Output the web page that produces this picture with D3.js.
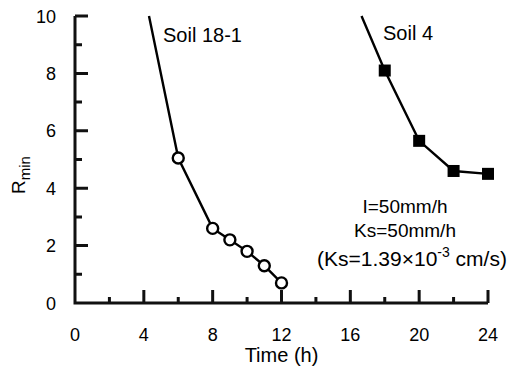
<!DOCTYPE html>
<meta charset="utf-8">
<script src="https://cdn.jsdelivr.net/npm/d3@7"></script>
<head>
	<title>Rmin vs time</title>
	<style>
		body { margin: 0; background: #fff; }
		text { font-family: "Liberation Sans", Arial, sans-serif; fill: #000; }
	</style>
</head>
<body>
	<div id="chart"></div>
	<script>
		// data
		// soil 18-1: first point is where the curve leaves the top of the frame (no marker)
		var soil181Time = [4.3, 6, 8, 9, 10, 11, 12],
			soil181Rmin = [10, 5.05, 2.6, 2.2, 1.8, 1.3, 0.7];
		var soil4Time = [16.65, 18, 20, 22, 24],
			soil4Rmin = [10, 8.1, 5.65, 4.6, 4.5];
		var xMajor = [0, 4, 8, 12, 16, 20, 24],
			xMinor = [2, 6, 10, 14, 18, 22],
			yMajor = [0, 2, 4, 6, 8, 10],
			yMinor = [1, 3, 5, 7, 9];

		var width = 518, height = 376;
		var svg = d3.select("#chart").append("svg")
			.attr("width", width)
			.attr("height", height);

		var x = d3.scaleLinear().domain([0, 24]).range([75, 488]);
		var y = d3.scaleLinear().domain([0, 10]).range([303, 16]);

		// axis lines + inward ticks, built as one path from the scales
		var d = "M" + x(0) + "," + y(10) + "V" + y(0) + "H" + x(24);
		xMajor.slice(1).forEach(function(v) { d += "M" + x(v) + "," + y(0) + "v-13"; });
		xMinor.forEach(function(v) { d += "M" + x(v) + "," + y(0) + "v-6"; });
		yMajor.slice(1).forEach(function(v) { d += "M" + x(0) + "," + y(v) + "h13"; });
		yMinor.forEach(function(v) { d += "M" + x(0) + "," + y(v) + "h7"; });
		svg.append("path")
			.attr("d", d)
			.attr("fill", "none")
			.attr("stroke", "#111")
			.attr("stroke-width", 3);

		// tick labels
		svg.selectAll("text.xl").data(xMajor).enter().append("text")
			.attr("x", function(v) { return x(v); }).attr("y", 341)
			.attr("text-anchor", "middle")
			.style("font-size", "18px")
			.text(function(v) { return v; });
		svg.selectAll("text.yl").data(yMajor).enter().append("text")
			.attr("x", 56).attr("y", function(v) { return y(v) + 6.5; })
			.attr("text-anchor", "end")
			.style("font-size", "18px")
			.text(function(v) { return v; });

		// axis titles
		svg.append("text")
			.attr("x", x(12)).attr("y", 362)
			.attr("text-anchor", "middle")
			.style("font-size", "20px")
			.text("Time (h)");

		var yl = svg.append("text")
			.attr("transform", "translate(25,175) rotate(-90)")
			.attr("text-anchor", "middle")
			.style("font-size", "19px");
		yl.append("tspan").text("R");
		yl.append("tspan").attr("dy", 5).style("font-size", "15px").text("min");

		var line = d3.line()
			.x(function(p) { return x(p[0]); })
			.y(function(p) { return y(p[1]); });

		var s181 = d3.zip(soil181Time, soil181Rmin),
			s4 = d3.zip(soil4Time, soil4Rmin);

		svg.append("path").datum(s181)
			.attr("d", line).attr("fill", "none").attr("stroke", "#000").attr("stroke-width", 2.4);
		svg.append("path").datum(s4)
			.attr("d", line).attr("fill", "none").attr("stroke", "#000").attr("stroke-width", 2.4);

		// open circles (skip the unmarked curve start)
		svg.selectAll("circle.s181").data(s181.slice(1)).enter()
			.append("circle")
			.attr("class", "s181")
			.attr("cx", function(p) { return x(p[0]); })
			.attr("cy", function(p) { return y(p[1]); })
			.attr("r", 5.5)
			.attr("fill", "#fff").attr("stroke", "#000").attr("stroke-width", 2.4);

		// filled squares
		svg.selectAll("rect.s4").data(s4.slice(1)).enter()
			.append("rect")
			.attr("class", "s4")
			.attr("x", function(p) { return x(p[0]) - 6; })
			.attr("y", function(p) { return y(p[1]) - 6; })
			.attr("width", 12).attr("height", 12)
			.attr("fill", "#000");

		// labels
		svg.append("text").attr("x", 163).attr("y", 42).style("font-size", "20px").text("Soil 18-1");
		svg.append("text").attr("x", 383).attr("y", 40).style("font-size", "20px").text("Soil 4");

		svg.append("text").attr("x", 405).attr("y", 213).attr("text-anchor", "middle")
			.style("font-size", "19px").text("I=50mm/h");
		svg.append("text").attr("x", 405).attr("y", 237).attr("text-anchor", "middle")
			.style("font-size", "19px").text("Ks=50mm/h");
		var ks = svg.append("text").attr("x", 412).attr("y", 266).attr("text-anchor", "middle")
			.style("font-size", "21px");
		ks.append("tspan").text("(Ks=1.39×10");
		ks.append("tspan").attr("dy", -9).style("font-size", "14px").text("-3");
		ks.append("tspan").attr("dy", 9).text(" cm/s)");
	</script>
</body>
</html>
